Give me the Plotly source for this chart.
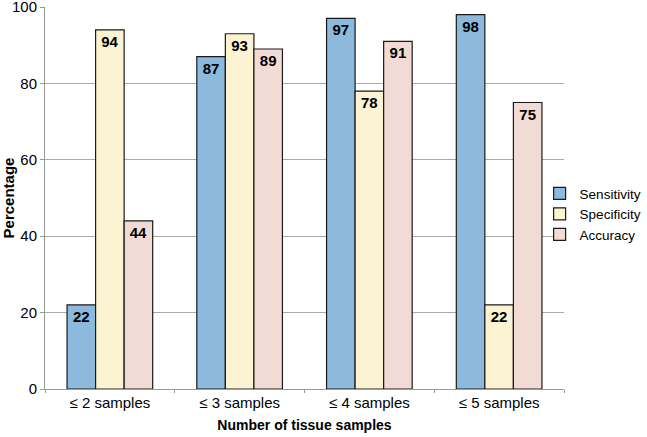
import plotly.graph_objects as go

categories = ["≤ 2 samples", "≤ 3 samples", "≤ 4 samples", "≤ 5 samples"]
sensitivity = [22, 87, 97, 98]
specificity = [94, 93, 78, 22]
accuracy = [44, 89, 91, 75]

series = [
    ("Sensitivity", sensitivity, "#8DB9DD"),
    ("Specificity", specificity, "#FCF3D3"),
    ("Accuracy", accuracy, "#F2DBD4"),
]

fig = go.Figure()
for name, vals, color in series:
    fig.add_trace(go.Bar(
        name=name, x=categories, y=vals,
        marker=dict(color=color, line=dict(color="#1a1a1a", width=1.2)),
        text=[str(v) for v in vals], textposition="inside",
        insidetextanchor="end",
        textfont=dict(family="Liberation Sans, Arial", size=15, color="black", weight="bold"),
        cliponaxis=False,
    ))

fig.update_layout(
    width=647, height=437,
    margin=dict(l=45, r=83, t=7, b=48, autoexpand=False),
    paper_bgcolor="white", plot_bgcolor="white",
    barmode="group", bargap=0.34, bargroupgap=0,
    font=dict(family="Liberation Sans, Arial", size=14, color="black"),
    showlegend=True,
    legend=dict(x=0.953, y=0.458, xanchor="left", yanchor="middle",
                font=dict(size=13.5), itemwidth=30, tracegroupgap=0,
                bgcolor="rgba(0,0,0,0)"),
    xaxis=dict(
        title=dict(text="<b>Number of tissue samples</b>", font=dict(size=14), standoff=10),
        tickson="boundaries", ticks="outside", ticklen=3, tickcolor="#999",
        showline=True, linecolor="#999", linewidth=1,
        tickfont=dict(size=15), automargin=False,
    ),
    yaxis=dict(
        title=dict(text="<b>Percentage</b>", font=dict(size=15), standoff=1),
        range=[0, 100], dtick=20, showgrid=True, gridcolor="#aaaaaa", gridwidth=1,
        showline=True, linecolor="#999", linewidth=1,
        ticks="outside", ticklen=4, tickcolor="#999",
        tickfont=dict(size=15), zeroline=False, automargin=False,
        ticklabeloverflow="allow",
    ),
)

fig.write_html("out.html", config={"displayModeBar": False},
               post_script="document.body.style.margin='0';")
